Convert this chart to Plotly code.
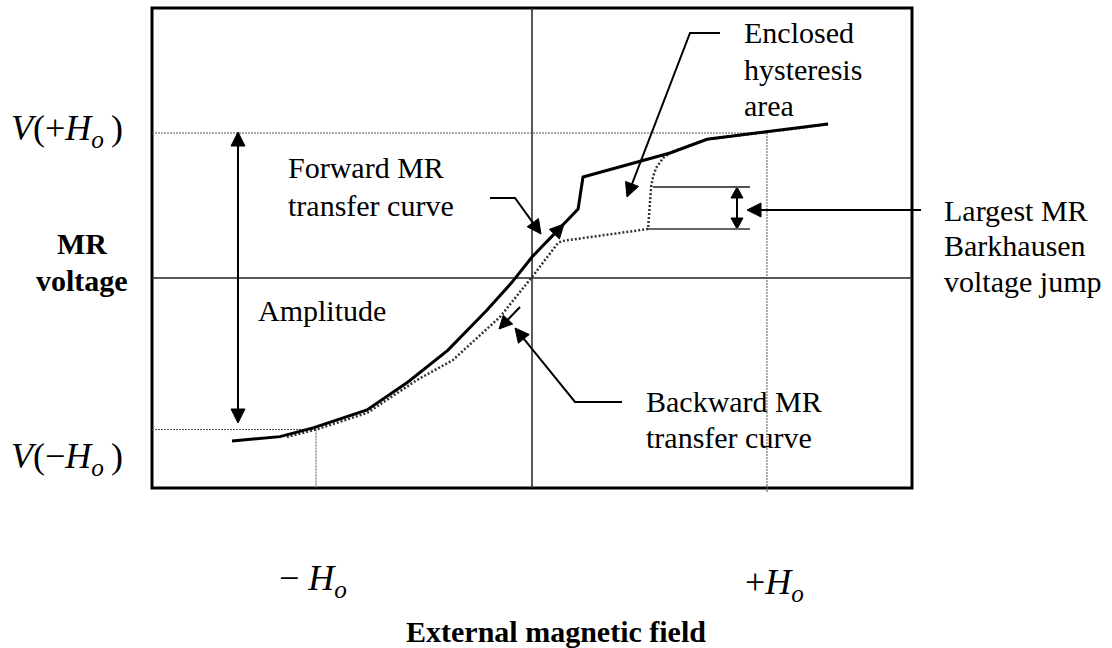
import math
import plotly.graph_objects as go

# ---------------- data (field in units of Ho, voltage in units of V(+Ho)) ----------------
fwd_h = [-1.282, -1.077, -0.932, -0.705, -0.530, -0.359, -0.192, -0.085, 0.000,
         0.197, 0.218, 0.462, 0.590, 0.748, 1.004, 1.145, 1.265]
fwd_v = [-1.124, -1.094, -1.032, -0.910, -0.717, -0.497, -0.221, -0.028, 0.145,
         0.476, 0.697, 0.807, 0.862, 0.957, 1.007, 1.034, 1.062]

bwd_h = [1.265, 1.145, 1.004, 0.748, 0.598, 0.560, 0.530, 0.517, 0.509, 0.496,
         0.128, 0.111, 0.000, -0.137, -0.338, -0.491, -0.705, -0.919, -1.047]
bwd_v = [1.062, 1.034, 1.007, 0.957, 0.869, 0.828, 0.759, 0.697, 0.628, 0.338,
         0.255, 0.241, 0.007, -0.269, -0.566, -0.703, -0.931, -1.043, -1.097]

H_POS, H_NEG = 1.004, -0.923        # +Ho, -Ho
V_POS, V_NEG = 1.000, -1.045        # V(+Ho), V(-Ho)
JUMP_TOP, JUMP_BOT = 0.628, 0.338   # Barkhausen jump levels

tick_vpos = "<i>V</i>(+<i>H</i><sub><i>o</i></sub>\u2009)"
tick_vneg = "<i>V</i>(−<i>H</i><sub><i>o</i></sub>\u2009)"
tick_hneg = "− <i>H</i><sub><i>o</i></sub>"
tick_hpos = "+<i>H</i><sub><i>o</i></sub>"

# ---------------- pixel <-> data helpers for layout positions ----------------
W, Hh = 1112, 648
SX, SY = 234.0, 145.0
def X(px):
    return (px - 532) / SX
def Y(py):
    return (278 - py) / SY

BOX_L, BOX_R, BOX_T, BOX_B = X(152), X(912), Y(8), Y(488)

SERIF = "Liberation Serif"
fig = go.Figure()

# backward (dotted) curve first, forward (solid) on top
fig.add_trace(go.Scatter(x=bwd_h, y=bwd_v, mode="lines",
                         line=dict(color="#333333", width=2.5, dash="2px,2px"),
                         hoverinfo="skip", showlegend=False))
fig.add_trace(go.Scatter(x=fwd_h, y=fwd_v, mode="lines",
                         line=dict(color="black", width=3),
                         hoverinfo="skip", showlegend=False))

shapes = []
shapes.append(dict(type="rect", x0=BOX_L, x1=BOX_R, y0=BOX_B, y1=BOX_T,
                   line=dict(color="black", width=3), layer="below"))
shapes.append(dict(type="line", x0=BOX_L, x1=BOX_R, y0=0, y1=0,
                   line=dict(color="#222222", width=1.5), layer="below"))
shapes.append(dict(type="line", x0=0, x1=0, y0=BOX_B, y1=BOX_T,
                   line=dict(color="#222222", width=1.5), layer="below"))
dref = dict(color="#555555", width=1, dash="2px,1px")
shapes.append(dict(type="line", x0=BOX_L, x1=H_POS, y0=V_POS, y1=V_POS, line=dref, layer="below"))
shapes.append(dict(type="line", x0=H_POS, x1=H_POS, y0=V_POS, y1=Y(493), line=dref, layer="below"))
shapes.append(dict(type="line", x0=BOX_L, x1=H_NEG, y0=V_NEG, y1=V_NEG, line=dref, layer="below"))
shapes.append(dict(type="line", x0=H_NEG, x1=H_NEG, y0=V_NEG, y1=BOX_B, line=dref, layer="below"))
shapes.append(dict(type="line", x0=X(653), x1=X(750), y0=JUMP_TOP, y1=JUMP_TOP,
                   line=dict(color="#555555", width=2)))
shapes.append(dict(type="line", x0=X(648), x1=X(750), y0=JUMP_BOT, y1=JUMP_BOT,
                   line=dict(color="#666666", width=2)))

# ---------------- arrows: polyline (pixel) with head at the last point ----------------
arrows = [
    # (points in px, double-headed, head length, head half-width)
    ([(238, 423), (238, 132)], True, 14, 7),      # amplitude
    ([(737, 229), (737, 187)], True, 11, 6),      # Barkhausen jump
    ([(921, 210), (747, 210)], False, 14, 7),     # pointer to jump
    ([(490, 198), (515, 198), (541, 234)], False, 14, 7),   # forward label
    ([(720, 33), (690, 33), (627, 197)], False, 14, 7),     # hysteresis area
    ([(622, 402), (575, 402), (515, 328)], False, 14, 7),   # backward label
    ([(546, 243), (564, 224)], False, 14, 7),     # forward direction
    ([(520, 307), (499, 329)], False, 13, 6.5),   # backward direction
]

lx, ly, hx, hy = [], [], [], []
def head(tip, prev, L, w):
    dx, dy = tip[0] - prev[0], tip[1] - prev[1]
    n = math.hypot(dx, dy)
    ux, uy = dx / n, dy / n
    bx, by = tip[0] - L * ux, tip[1] - L * uy
    pts = [tip, (bx - w * uy, by + w * ux), (bx + w * uy, by - w * ux), tip]
    for p in pts:
        hx.append(X(p[0])); hy.append(Y(p[1]))
    hx.append(None); hy.append(None)
    return (tip[0] - 0.8 * L * ux, tip[1] - 0.8 * L * uy)

for pts, both, L, w in arrows:
    pts = list(pts)
    end = head(pts[-1], pts[-2], L, w)
    pts[-1] = end
    if both:
        start = head(pts[0], pts[1], L, w)
        pts[0] = start
    for p in pts:
        lx.append(X(p[0])); ly.append(Y(p[1]))
    lx.append(None); ly.append(None)

fig.add_trace(go.Scatter(x=lx, y=ly, mode="lines", line=dict(color="black", width=2),
                         hoverinfo="skip", showlegend=False))
fig.add_trace(go.Scatter(x=hx, y=hy, mode="lines", fill="toself", fillcolor="black",
                         line=dict(color="black", width=1),
                         hoverinfo="skip", showlegend=False))

# ---------------- texts ----------------
ann = []
def text(px, py, s, size=30, bold=False, xanchor="left"):
    if bold:
        s = "<b>" + s + "</b>"
    ann.append(dict(x=X(px), y=Y(py), xref="x", yref="y", text=s, showarrow=False,
                    xanchor=xanchor, yanchor="middle", align="left",
                    font=dict(family=SERIF, size=size, color="black")))

for s, py in [("Enclosed", 32), ("hysteresis", 69), ("area", 105)]:
    text(742, py, s)
for s, py in [("Forward MR", 167), ("transfer curve", 205)]:
    text(286, py, s)
text(256, 310, "Amplitude")
for s, py in [("Backward MR", 401), ("transfer curve", 437)]:
    text(644, py, s)
for s, py in [("Largest MR", 210), ("Barkhausen", 245), ("voltage jump", 281)]:
    text(942, py, s)
text(82, 243, "MR", bold=True, xanchor="center")
text(82, 280, "voltage", bold=True, xanchor="center")
text(556, 631, "External magnetic field", bold=True, xanchor="center")
text(9, 130, tick_vpos, size=36)
text(9, 458, tick_vneg, size=36)
text(277, 580, tick_hneg, size=36)
text(743, 584, tick_hpos, size=36)

fig.update_layout(
    width=W, height=Hh, autosize=False,
    margin=dict(l=0, r=0, t=0, b=0, pad=0),
    paper_bgcolor="white", plot_bgcolor="white",
    xaxis=dict(range=[X(0), X(W)], visible=False, fixedrange=True),
    yaxis=dict(range=[Y(Hh), Y(0)], visible=False, fixedrange=True),
    shapes=shapes, annotations=ann, showlegend=False,
)

fig.write_html("out.html")
